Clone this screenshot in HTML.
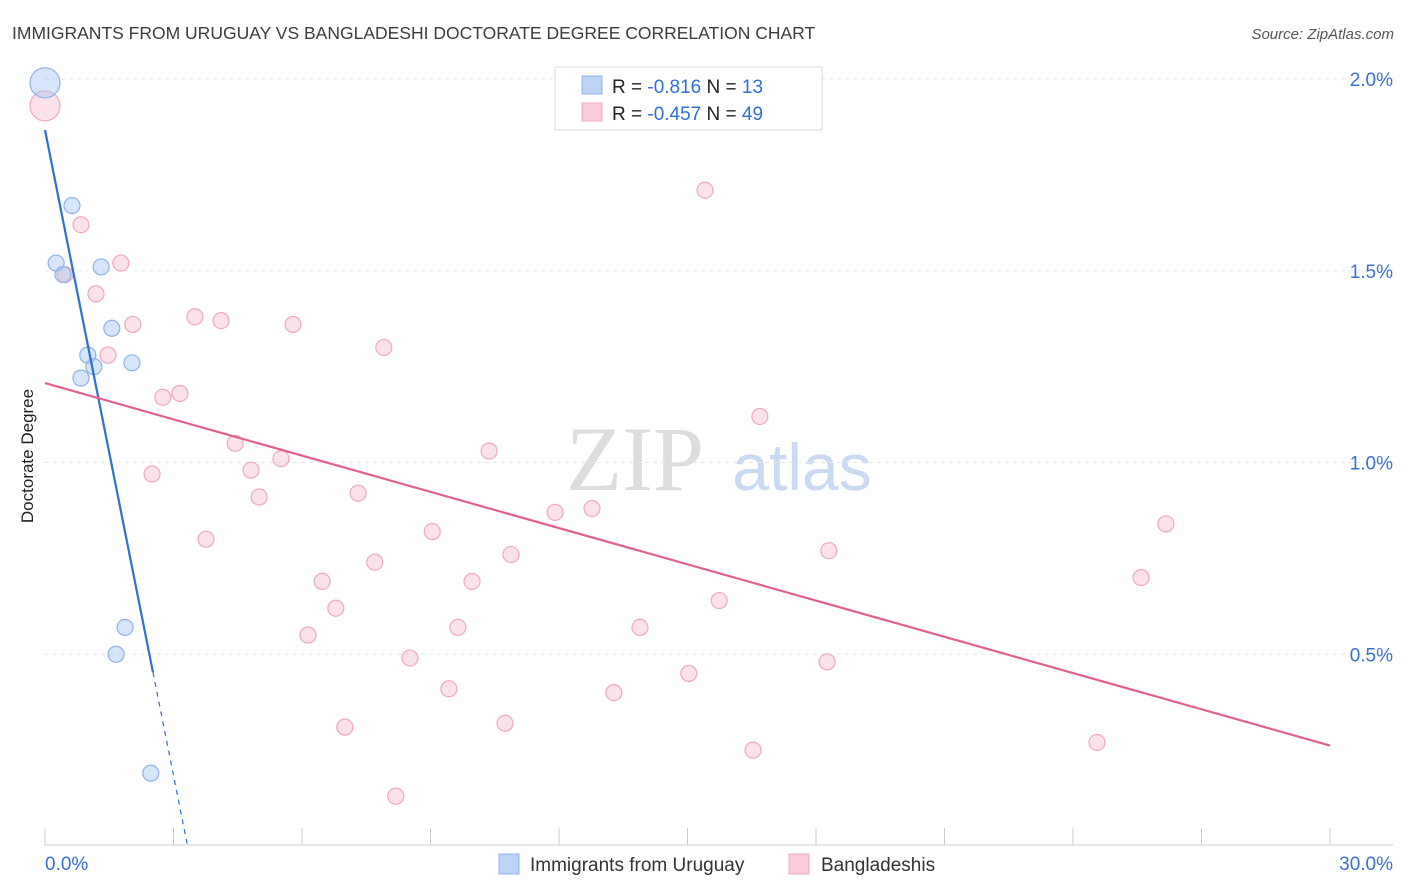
<!DOCTYPE html>
<html><head><meta charset="utf-8"><style>
body{margin:0;background:#fff;font-family:"Liberation Sans",sans-serif;}
svg{display:block}
</style></head><body>
<svg id="chart" width="1406" height="892">
<text x="12" y="39" font-size="17.5" fill="#3c3c3c">IMMIGRANTS FROM URUGUAY VS BANGLADESHI DOCTORATE DEGREE CORRELATION CHART</text>
<text x="1394" y="39" font-size="15" fill="#555" font-style="italic" text-anchor="end">Source: ZipAtlas.com</text>
<g><text x="635" y="490" font-size="92" fill="#ddd" font-family="Liberation Serif" text-anchor="middle">ZIP</text><text x="802" y="490" font-size="66" fill="#c9daf2" text-anchor="middle">atlas</text></g>
<g id="grid"></g>
<g id="axes"></g>
<g id="pts"></g>
<g id="lines"></g>
<text x="33" y="456" font-size="17" fill="#222" text-anchor="middle" transform="rotate(-90 33 456)">Doctorate Degree</text>
<g>
<rect x="555" y="67" width="267" height="63" fill="#fff" stroke="#ddd"/>
<rect x="582" y="76" width="20" height="18" fill="#bcd3f5" stroke="#8fb3e8"/>
<rect x="582" y="103" width="20" height="18" fill="#fbcbda" stroke="#f0a8bf"/>
<text x="612" y="93" font-size="19" fill="#222">R = <tspan fill="#2f6fd6">-0.816</tspan>   N = <tspan fill="#2f6fd6"> 13</tspan></text>
<text x="612" y="120" font-size="19" fill="#222">R = <tspan fill="#2f6fd6">-0.457</tspan>   N = <tspan fill="#2f6fd6">49</tspan></text>
</g>
<g>
<rect x="499" y="854" width="20" height="20" fill="#bcd3f5" stroke="#8fb3e8"/>
<text x="530" y="871" font-size="19" fill="#333">Immigrants from Uruguay</text>
<rect x="789" y="854" width="20" height="20" fill="#fbcbda" stroke="#f0a8bf"/>
<text x="821" y="871" font-size="19" fill="#333">Bangladeshis</text>
</g>
</svg>
<script>
const yTicks=[0.5,1.0,1.5,2.0];
const yTickLabels=["0.5%","1.0%","1.5%","2.0%"];
const xTickLabels=["0.0%","30.0%"];
const blueX=[0,0.63,0.26,0.42,1.31,1.56,1.00,1.14,0.84,2.03,1.87,1.66,2.47];
const blueY=[1.99,1.67,1.52,1.49,1.51,1.35,1.28,1.25,1.22,1.26,0.57,0.50,0.19];
const pinkX=[0,0.84,0.47,1.19,1.77,2.05,1.47,3.50,4.11,5.79,7.91,2.75,3.15,4.44,2.50,4.81,5.51,5.00,3.76,7.31,10.37,15.41,13.49,16.69,12.77,11.91,9.04,10.88,7.70,6.47,9.97,6.79,9.64,13.89,15.74,18.30,6.14,8.52,9.43,13.28,15.03,18.26,7.00,10.74,16.53,8.19,24.56,25.59,26.17];
const pinkY=[1.93,1.62,1.49,1.44,1.52,1.36,1.28,1.38,1.37,1.36,1.30,1.17,1.18,1.05,0.97,0.98,1.01,0.91,0.80,0.92,1.03,1.71,1.99,1.12,0.88,0.87,0.82,0.76,0.74,0.69,0.69,0.62,0.57,0.57,0.64,0.77,0.55,0.49,0.41,0.40,0.45,0.48,0.31,0.32,0.25,0.13,0.27,0.70,0.84];
const blueTrend=[1.867,-0.561];
const pinkTrend=[1.207,-0.0315];
const NS="http://www.w3.org/2000/svg";
const X=v=>45+v/30*1285, Y=v=>846-v*383.5;
function mk(tag,attrs,parent){const e=document.createElementNS(NS,tag);for(const k in attrs)e.setAttribute(k,attrs[k]);document.getElementById(parent).appendChild(e);return e;}
yTicks.forEach((t,i)=>{
 const g=mk('line',{x1:45,x2:1393,y1:Y(t),y2:Y(t),stroke:'#e6e6e6','stroke-dasharray':'4 4'},'grid');
 
 
 const l=mk('text',{x:1393,y:Y(t)+7,'font-size':19,fill:'#3a70d0','text-anchor':'end'},'axes');
 l.textContent=yTickLabels[i];
 
 
});
const ax=mk('line',{x1:45,x2:1393,y1:845,y2:845,stroke:'#ccc'},'axes');


for(let i=0;i<=10;i++){const t=mk('line',{x1:X(i*3),x2:X(i*3),y1:828,y2:845,stroke:'#ccc'},'axes');
 
 }
[[0,'start',45],[30,'end',1393]].forEach((a,i)=>{const l=mk('text',{x:a[2],y:870,'font-size':19,fill:'#3a70d0','text-anchor':a[1]},'axes');l.textContent=xTickLabels[i];
 
 });
pinkX.forEach((x,i)=>{const c=mk('circle',{cx:X(x),cy:Y(pinkY[i]),r:i==0?15:8,fill:'rgba(246,182,202,0.4)',stroke:'#f0a8bf','stroke-width':1.2},'pts');
 
 });
blueX.forEach((x,i)=>{const c=mk('circle',{cx:X(x),cy:Y(blueY[i]),r:i==0?15:8,fill:'rgba(165,198,242,0.45)',stroke:'#8fb3e8','stroke-width':1.2},'pts');
 
 });
const bEnd=2.52, bZero=-blueTrend[0]/blueTrend[1];
let l1=mk('line',{x1:X(0),y1:Y(blueTrend[0]),x2:X(bEnd),y2:Y(blueTrend[0]+blueTrend[1]*bEnd),stroke:'#2f6fd6','stroke-width':2.2},'lines');


let l2=mk('line',{x1:X(bEnd),y1:Y(blueTrend[0]+blueTrend[1]*bEnd),x2:X(bZero),y2:Y(0),stroke:'#2f6fd6','stroke-width':1.2,'stroke-dasharray':'5 5'},'lines');


let l3=mk('line',{x1:X(0),y1:Y(pinkTrend[0]),x2:X(30),y2:Y(pinkTrend[0]+pinkTrend[1]*30),stroke:'#e0608e','stroke-width':2.2},'lines');


</script>
</body></html>
